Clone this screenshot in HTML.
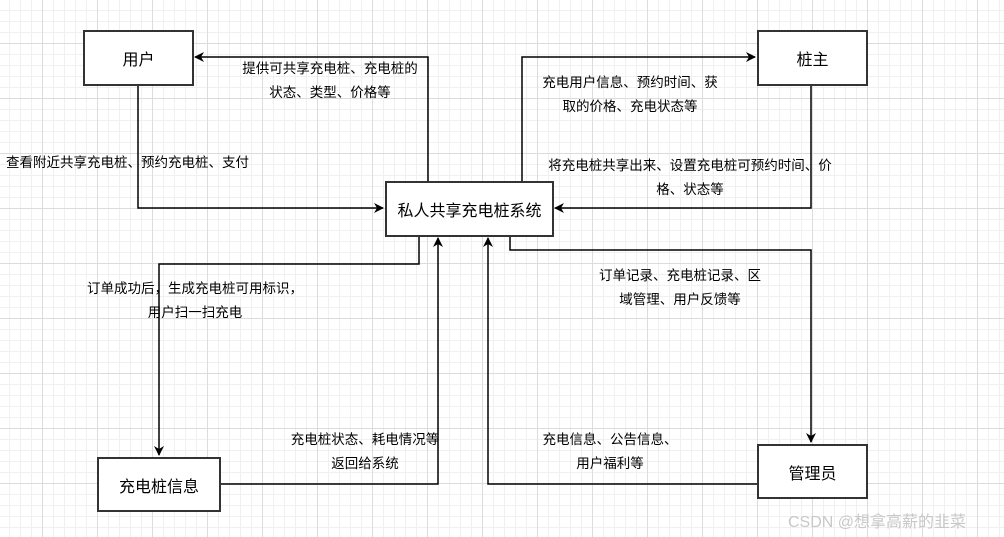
<!DOCTYPE html>
<html><head><meta charset="utf-8"><style>
body{margin:0;width:1004px;height:537px;overflow:hidden;background:#fff;font-family:"Liberation Sans","Noto Sans CJK SC",sans-serif;}
.bg{position:absolute;left:0;top:0;width:1004px;height:537px;
background-image:
linear-gradient(to right,#dcdcdc 1px,transparent 1px),
linear-gradient(to bottom,#dcdcdc 1px,transparent 1px),
linear-gradient(to right,#f0f0f0 1px,transparent 1px),
linear-gradient(to bottom,#f0f0f0 1px,transparent 1px);
background-size:55px 55px,55px 55px,11px 11px,11px 11px;
background-position:42px 0,0 43px,9px 0,0 10px;}
.box{position:absolute;border:2px solid #333;background:#fff;box-sizing:border-box;display:flex;align-items:center;justify-content:center;font-size:16px;color:#000;}
.t{position:absolute;font-size:13.5px;color:#000;text-align:center;line-height:24px;white-space:nowrap;}
</style></head><body>
<div class="bg"></div>
<svg width="1004" height="537" style="position:absolute;left:0;top:0">
<defs><marker id="a" markerWidth="10" markerHeight="10" refX="9" refY="5" orient="auto" markerUnits="userSpaceOnUse"><path d="M0,0 L10,5 L0,10 L3,5 z" fill="#000"/></marker></defs>
<g fill="none" stroke="#000" stroke-width="1.5">
<polyline points="428,181 428,57 195,57" marker-end="url(#a)"/>
<polyline points="138,85 138,208 383,208" marker-end="url(#a)"/>
<polyline points="522,181 522,57 755,57" marker-end="url(#a)"/>
<polyline points="811,85 811,208 555,208" marker-end="url(#a)"/>
<polyline points="419,236 419,264 159,264 159,455" marker-end="url(#a)"/>
<polyline points="220,484 438,484 438,238" marker-end="url(#a)"/>
<polyline points="510,236 510,250 811,250 811,442" marker-end="url(#a)"/>
<polyline points="757,484 488,484 488,238" marker-end="url(#a)"/>
</g></svg>
<div class="box" style="left:83px;top:30px;width:111px;height:56px">用户</div>
<div class="box" style="left:385px;top:181px;width:169px;height:56px">私人共享充电桩系统</div>
<div class="box" style="left:757px;top:30px;width:111px;height:56px">桩主</div>
<div class="box" style="left:97px;top:457px;width:124px;height:55px">充电桩信息</div>
<div class="box" style="left:757px;top:444px;width:111px;height:55px">管理员</div>
<div class="t" style="left:230px;top:57px;width:200px">提供可共享充电桩、充电桩的<br>状态、类型、价格等</div>
<div class="t" style="left:6px;top:151px;text-align:left">查看附近共享充电桩、预约充电桩、支付</div>
<div class="t" style="left:530px;top:71px;width:200px">充电用户信息、预约时间、获<br>取的价格、充电状态等</div>
<div class="t" style="left:540px;top:154px;width:300px">将充电桩共享出来、设置充电桩可预约时间、价<br>格、状态等</div>
<div class="t" style="left:80px;top:277px;width:230px">订单成功后，生成充电桩可用标识，<br>用户扫一扫充电</div>
<div class="t" style="left:580px;top:264px;width:200px">订单记录、充电桩记录、区<br>域管理、用户反馈等</div>
<div class="t" style="left:250px;top:428px;width:230px">充电桩状态、耗电情况等<br>返回给系统</div>
<div class="t" style="left:510px;top:428px;width:200px">充电信息、公告信息、<br>用户福利等</div>
<div style="position:absolute;left:788px;top:508px;font-size:16px;color:#c8c8c8;white-space:nowrap">CSDN @想拿高薪的韭菜</div>
</body></html>
